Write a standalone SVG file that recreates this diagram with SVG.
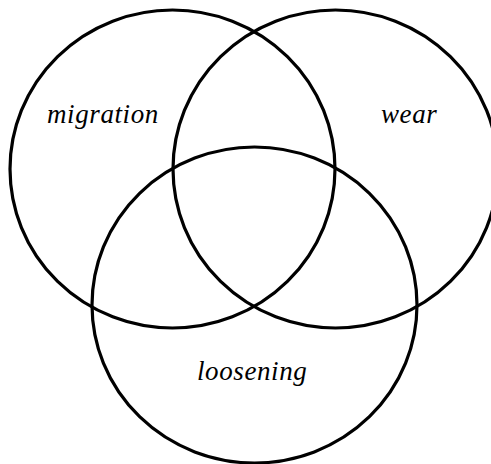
<svg xmlns="http://www.w3.org/2000/svg" width="491" height="464" viewBox="0 0 491 464">
<style>
.c{fill:none;stroke:#000;stroke-width:3.2}
.t{font-family:"Liberation Serif","Times New Roman",serif;font-style:italic;font-size:27px;fill:#000;letter-spacing:0.6px}
</style>
<rect width="491" height="464" fill="#fff"/>
<g id="migration"><ellipse class="c" cx="172.5" cy="169" rx="162.5" ry="159"/><text class="t" x="47" y="123">migration</text></g>
<g id="wear"><ellipse class="c" cx="335.5" cy="169" rx="162.5" ry="159"/><text class="t" x="381" y="123">wear</text></g>
<g id="loosening"><ellipse class="c" cx="254.5" cy="305" rx="162.5" ry="158"/><text class="t" x="197" y="380">loosening</text></g>
<g id="connectors"/>
</svg>
